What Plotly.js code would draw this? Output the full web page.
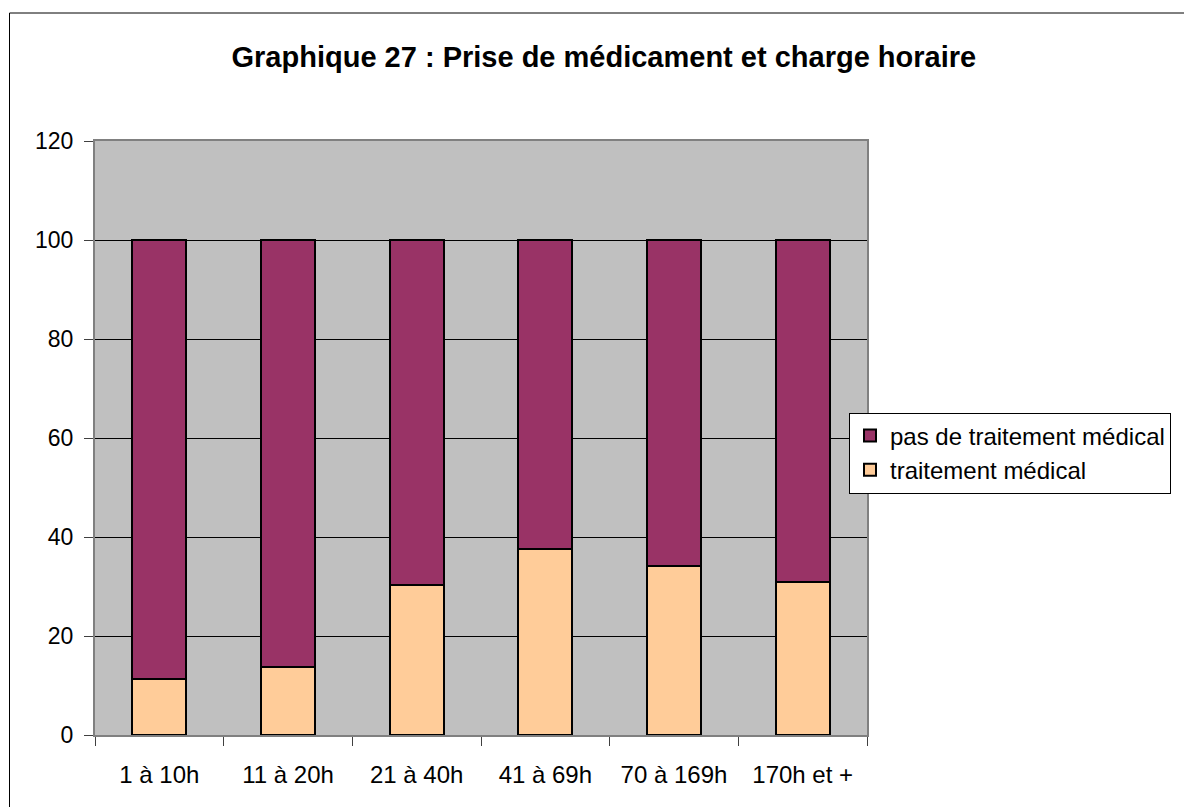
<!DOCTYPE html>
<html>
<head>
<meta charset="utf-8">
<script src="https://cdn.plot.ly/plotly-3.0.1.min.js"></script>
<style>html,body{margin:0;padding:0;background:#fff;}#chart{width:1184px;height:807px;}</style>
</head>
<body>
<div id="chart"></div>
<script>
const categories = ["1 à 10h", "11 à 20h", "21 à 40h", "41 à 69h", "70 à 169h", "170h et +"];
const traitementMedical = [11.4, 13.8, 30.4, 37.6, 34.1, 30.9];
const pasDeTraitement = [88.6, 86.2, 69.6, 62.4, 65.9, 69.1];
const yTicks = [0, 20, 40, 60, 80, 100, 120];

const font = "Liberation Sans, Arial, sans-serif";

const traces = [
  {
    type: "bar", name: "traitement médical", x: categories, y: traitementMedical,
    marker: {color: "#FFCC99", line: {color: "#000000", width: 2}}
  },
  {
    type: "bar", name: "pas de traitement médical", x: categories, y: pasDeTraitement,
    marker: {color: "#993366", line: {color: "#000000", width: 2}}
  }
];

const layout = {
  width: 1184, height: 807,
  margin: {l: 95, r: 317, t: 141, b: 72, pad: 0},
  paper_bgcolor: "#ffffff",
  plot_bgcolor: "#C0C0C0",
  barmode: "stack",
  bargap: 0.58,
  font: {family: font, size: 24, color: "#000000"},
  title: {
    text: "<b>Graphique 27 : Prise de médicament et charge horaire</b>",
    font: {family: font, size: 29, color: "#000000"},
    xref: "container", x: 0.51, xanchor: "center",
    yref: "container", y: 1 - 57/807, yanchor: "middle"
  },
  xaxis: {
    type: "category",
    tickson: "boundaries",
    ticks: "outside", ticklen: 9, tickcolor: "#404040", tickwidth: 1,
    showgrid: false,
    showline: true, linecolor: "#808080", linewidth: 2, mirror: true,
    tickfont: {family: font, size: 24},
    ticklabelstandoff: 17,
    fixedrange: true
  },
  yaxis: {
    range: [0, 120],
    tickvals: yTicks,
    ticks: "outside", ticklen: 9, tickcolor: "#404040", tickwidth: 1,
    showgrid: true, gridcolor: "#000000", gridwidth: 1,
    zeroline: false,
    showline: true, linecolor: "#808080", linewidth: 2, mirror: true,
    tickfont: {family: font, size: 23},
    ticklabelstandoff: 6,
    fixedrange: true
  },
  legend: {
    x: (849 - 95) / 772, xanchor: "left",
    y: (735 - 453) / 594, yanchor: "middle",
    traceorder: "reversed",
    bgcolor: "#ffffff", bordercolor: "#000000", borderwidth: 1,
    font: {family: font, size: 24},
    itemwidth: 30
  },
  shapes: [
    {type: "rect", xref: "paper", yref: "paper",
     x0: (9.5 - 95) / 772, x1: 1.6, y0: -0.3, y1: (735 - 13) / 594,
     line: {color: "#000000", width: 1}, fillcolor: "rgba(0,0,0,0)", layer: "below"}
  ]
};

Plotly.newPlot("chart", traces, layout, {displayModeBar: false, staticPlot: true});
</script>
</body>
</html>
